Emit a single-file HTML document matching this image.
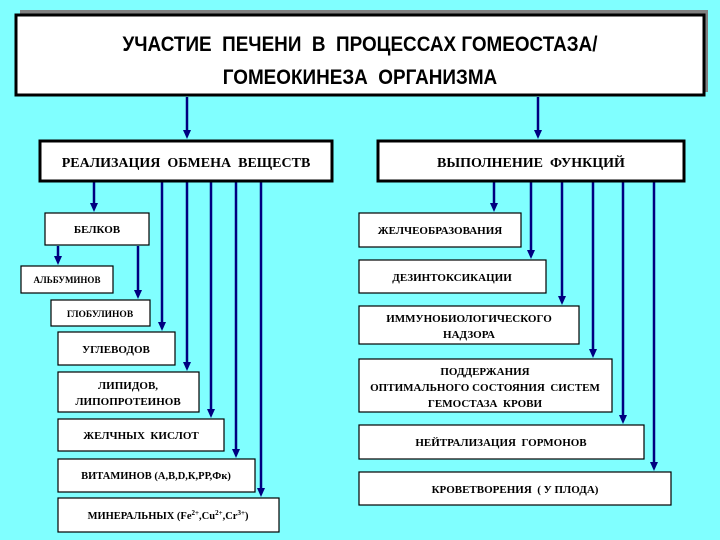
<!DOCTYPE html>
<html><head><meta charset="utf-8"><style>
html,body{margin:0;padding:0;background:#80FFFF;}
svg{display:block}
text{font-family:"Liberation Serif",serif;font-weight:bold;fill:#000;text-anchor:middle;white-space:pre}
</style></head><body>
<svg width="720" height="540" viewBox="0 0 720 540" xmlns="http://www.w3.org/2000/svg" xml:space="preserve">
<rect x="20" y="10" width="688" height="82" fill="#808080"/>
<rect x="16" y="15" width="688" height="80" fill="#fff" stroke="#000" stroke-width="3"/>
<text x="360" y="51" style="font-family:'Liberation Sans',sans-serif;font-size:21px" transform="translate(360,0) scale(0.9,1) translate(-360,0)">УЧАСТИЕ  ПЕЧЕНИ  В  ПРОЦЕССАХ ГОМЕОСТАЗА/</text>
<text x="360" y="84" style="font-family:'Liberation Sans',sans-serif;font-size:21px" transform="translate(360,0) scale(0.9,1) translate(-360,0)">ГОМЕОКИНЕЗА  ОРГАНИЗМА</text>
<g stroke="#000080" stroke-width="2.5" fill="none">
<line x1="187" y1="97" x2="187" y2="132"/>
<line x1="538" y1="97" x2="538" y2="132"/>
<line x1="94" y1="182" x2="94" y2="205"/>
<line x1="162" y1="182" x2="162" y2="324"/>
<line x1="187" y1="182" x2="187" y2="364"/>
<line x1="211" y1="182" x2="211" y2="411"/>
<line x1="236" y1="182" x2="236" y2="451"/>
<line x1="261" y1="182" x2="261" y2="490"/>
<line x1="58" y1="246" x2="58" y2="258"/>
<line x1="138" y1="246" x2="138" y2="292"/>
<line x1="494" y1="182" x2="494" y2="205"/>
<line x1="531" y1="182" x2="531" y2="252"/>
<line x1="562" y1="182" x2="562" y2="298"/>
<line x1="593" y1="182" x2="593" y2="351"/>
<line x1="623" y1="182" x2="623" y2="417"/>
<line x1="654" y1="182" x2="654" y2="464"/>
</g>
<g fill="#000080">
<polygon points="183,130 191,130 187,139"/>
<polygon points="534,130 542,130 538,139"/>
<polygon points="90,203 98,203 94,212"/>
<polygon points="158,322 166,322 162,331"/>
<polygon points="183,362 191,362 187,371"/>
<polygon points="207,409 215,409 211,418"/>
<polygon points="232,449 240,449 236,458"/>
<polygon points="257,488 265,488 261,497"/>
<polygon points="54,256 62,256 58,265"/>
<polygon points="134,290 142,290 138,299"/>
<polygon points="490,203 498,203 494,212"/>
<polygon points="527,250 535,250 531,259"/>
<polygon points="558,296 566,296 562,305"/>
<polygon points="589,349 597,349 593,358"/>
<polygon points="619,415 627,415 623,424"/>
<polygon points="650,462 658,462 654,471"/>
</g>
<g fill="#fff" stroke="#000" stroke-width="3">
<rect x="40" y="141" width="292" height="40"/>
<rect x="378" y="141" width="306" height="40"/>
</g>
<text x="186" y="167" font-size="14">РЕАЛИЗАЦИЯ  ОБМЕНА  ВЕЩЕСТВ</text>
<text x="531" y="167" font-size="14">ВЫПОЛНЕНИЕ  ФУНКЦИЙ</text>
<g fill="#fff" stroke="#000" stroke-width="1.2">
<rect x="45" y="213" width="104" height="32"/>
<rect x="21" y="266" width="92" height="27"/>
<rect x="51" y="300" width="99" height="26"/>
<rect x="58" y="332" width="117" height="33"/>
<rect x="58" y="372" width="141" height="40"/>
<rect x="58" y="419" width="166" height="32"/>
<rect x="58" y="459" width="197" height="33"/>
<rect x="58" y="498" width="221" height="34"/>
<rect x="359" y="213" width="162" height="34"/>
<rect x="359" y="260" width="187" height="33"/>
<rect x="359" y="306" width="220" height="38"/>
<rect x="359" y="359" width="253" height="53"/>
<rect x="359" y="425" width="285" height="34"/>
<rect x="359" y="472" width="312" height="33"/>
</g>
<g font-size="11">
<text x="97" y="233">БЕЛКОВ</text>
<text x="67" y="283" font-size="9">АЛЬБУМИНОВ</text>
<text x="100" y="317" font-size="9.5">ГЛОБУЛИНОВ</text>
<text x="116" y="353">УГЛЕВОДОВ</text>
<text x="128" y="389">ЛИПИДОВ,</text>
<text x="128" y="405">ЛИПОПРОТЕИНОВ</text>
<text x="141" y="439">ЖЕЛЧНЫХ  КИСЛОТ</text>
<text x="156" y="479" font-size="10.5">ВИТАМИНОВ (А,В,D,К,РР,Фк)</text>
<text x="168" y="519" font-size="10.5">МИНЕРАЛЬНЫХ (Fe<tspan font-size="7" dy="-4">2+</tspan><tspan dy="4">,Cu</tspan><tspan font-size="7" dy="-4">2+</tspan><tspan dy="4">,Cr</tspan><tspan font-size="7" dy="-4">3+</tspan><tspan dy="4">)</tspan></text>
<text x="440" y="234">ЖЕЛЧЕОБРАЗОВАНИЯ</text>
<text x="452" y="281">ДЕЗИНТОКСИКАЦИИ</text>
<text x="469" y="322">ИММУНОБИОЛОГИЧЕСКОГО</text>
<text x="469" y="338">НАДЗОРА</text>
<text x="485" y="375">ПОДДЕРЖАНИЯ</text>
<text x="485" y="391">ОПТИМАЛЬНОГО СОСТОЯНИЯ  СИСТЕМ</text>
<text x="485" y="407">ГЕМОСТАЗА  КРОВИ</text>
<text x="501" y="446">НЕЙТРАЛИЗАЦИЯ  ГОРМОНОВ</text>
<text x="515" y="493">КРОВЕТВОРЕНИЯ  ( У ПЛОДА)</text>
</g>
</svg>
</body></html>
